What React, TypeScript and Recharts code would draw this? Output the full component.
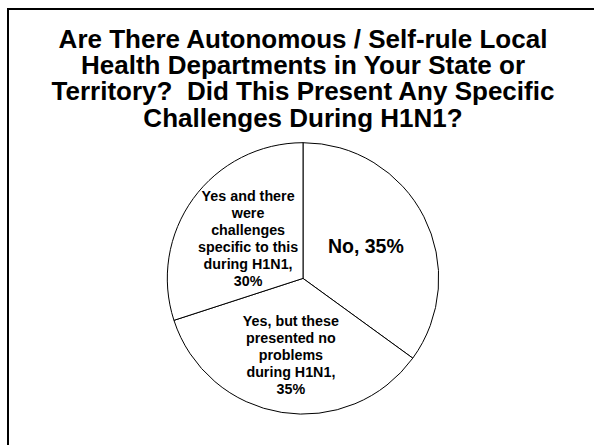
import React from "react";
import { PieChart, Pie, Cell } from "recharts";

const titleLines = [
  "Are There Autonomous / Self-rule Local",
  "Health Departments in Your State or",
  "Territory?  Did This Present Any Specific",
  "Challenges During H1N1?",
];

const categories = [
  "No",
  "Yes, but these\npresented no\nproblems\nduring H1N1",
  "Yes and there\nwere\nchallenges\nspecific to this\nduring H1N1",
];
const values = [35, 35, 30];

const data = categories.map((name, i) => ({ name, value: values[i] }));

const FONT = '"Liberation Sans", Arial, Helvetica, sans-serif';
const RAD = Math.PI / 180;
const labelRadiusFactor = [0.52, 0.57, 0.5];

const renderLabel = (props: any) => {
  const { cx, cy, midAngle, outerRadius, index, name, value } = props;
  const r = outerRadius * labelRadiusFactor[index];
  const x = cx + r * Math.cos(-midAngle * RAD);
  const y = cy + r * Math.sin(-midAngle * RAD);
  const parts = String(name).split("\n");
  let lines: string[];
  let fontSize: number;
  if (parts.length === 1) {
    lines = [`${parts[0]}, ${value}%`];
    fontSize = 19.5;
  } else {
    lines = [...parts.slice(0, -1), parts[parts.length - 1] + ",", `${value}%`];
    fontSize = 14.3;
  }
  const lh = 16.9;
  const firstBaseline = y - ((lines.length - 1) / 2) * lh + fontSize * 0.35;
  return (
    <text
      key={`lbl-${index}`}
      x={x}
      y={firstBaseline}
      textAnchor="middle"
      fill="#000"
      fontFamily={FONT}
      fontWeight="bold"
      fontSize={fontSize}
    >
      {lines.map((l, i) => (
        <tspan key={i} x={x} y={firstBaseline + i * lh}>
          {l}
        </tspan>
      ))}
    </text>
  );
};

export default function App() {
  return (
    <div
      style={{
        position: "absolute",
        left: 0,
        top: 0,
        width: 594,
        height: 445,
        background: "#fff",
        overflow: "hidden",
      }}
    >
      <div
        style={{
          position: "absolute",
          left: 7,
          top: 8,
          width: 600,
          height: 460,
          borderLeft: "2px solid #000",
          borderTop: "2px solid #000",
        }}
      />
      <div
        style={{
          position: "absolute",
          left: 0,
          width: 606,
          top: 25.8,
          textAlign: "center",
          fontFamily: FONT,
          fontWeight: "bold",
          fontSize: 26,
          lineHeight: "26.3px",
          color: "#000",
          whiteSpace: "pre",
        }}
      >
        {titleLines.map((t, i) => (
          <div key={i}>{t}</div>
        ))}
      </div>
      <div style={{ position: "absolute", left: 0, top: 0 }}>
        <PieChart width={594} height={445}>
          <Pie
            data={data}
            dataKey="value"
            nameKey="name"
            cx={298}
            cy={273.4}
            outerRadius={135.7}
            startAngle={90}
            endAngle={-270}
            stroke="#000"
            strokeWidth={1}
            labelLine={false}
            label={renderLabel}
            isAnimationActive={false}
          >
            {data.map((d, i) => (
              <Cell key={i} fill="#fff" stroke="#000" />
            ))}
          </Pie>
        </PieChart>
      </div>
    </div>
  );
}
